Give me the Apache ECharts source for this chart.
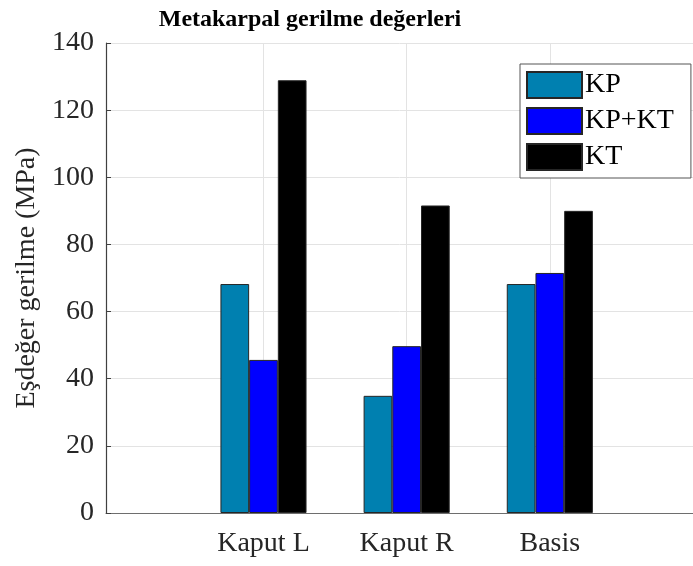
<!DOCTYPE html>
<html>
<head>
<meta charset="utf-8">
<script src="https://cdn.jsdelivr.net/npm/echarts@6/dist/echarts.min.js"></script>
<style>
html,body{margin:0;padding:0;background:#fff;}
#chart{width:693px;height:566px;}
</style>
</head>
<body>
<div id="chart"></div>
<script>
const categories = ['Kaput L', 'Kaput R', 'Basis'];
const seriesNames = ['KP', 'KP+KT', 'KT'];
const kpValues = [68.2, 34.9, 68.2];
const kpktValues = [45.6, 49.7, 71.5];
const ktValues = [128.9, 91.6, 90.0];
const yTicks = [0, 20, 40, 60, 80, 100, 120, 140];
const colors = ['#0080b0', '#0000ff', '#000000'];

const serif = '"Liberation Serif", "Times New Roman", serif';
const textColor = '#262626';
const catPositions = categories.map((c, i) => i + 1);

function toPoints(vals) { return vals.map((v, i) => [catPositions[i], v]); }

const allValues = [kpValues, kpktValues, ktValues];
const series = allValues.map((vals, k) => ({
  name: seriesNames[k],
  type: 'bar',
  data: toPoints(vals),
  barWidth: 28.7,
  barGap: '0%',
  itemStyle: { color: colors[k], borderColor: '#262626', borderWidth: 1 },
  emphasis: { disabled: true }
}));

const chart = echarts.init(document.getElementById('chart'), null, { renderer: 'canvas' });
chart.setOption({
  animation: false,
  backgroundColor: '#ffffff',
  title: {
    text: 'Metakarpal gerilme değerleri',
    left: 305, textAlign: 'center', top: 3,
    textStyle: { fontFamily: serif, fontWeight: 'bold', fontSize: 24, color: '#000' }
  },
  legend: {
    orient: 'vertical',
    left: 520, top: 64,
    padding: [7, 17, 7, 6],
    itemWidth: 55, itemHeight: 26, itemGap: 8,
    borderColor: '#555', borderWidth: 1,
    backgroundColor: '#fff',
    icon: 'rect',
    textStyle: { fontFamily: serif, fontSize: 28, color: '#000', padding: [0, 0, 0, -2] },
    data: seriesNames
  },
  grid: { left: 106, right: 0, top: 43, bottom: 53, containLabel: false },
  xAxis: {
    type: 'value',
    min: -0.1, max: 4,
    axisLine: { show: true, onZero: false, lineStyle: { color: '#6e6e6e', width: 1.2 } },
    axisTick: { show: false, customValues: catPositions },
    axisLabel: {
      customValues: catPositions,
      formatter: v => categories[Math.round(v) - 1] || '',
      fontFamily: serif, fontSize: 28, color: textColor, margin: 17
    },
    splitLine: { show: true, lineStyle: { color: '#e3e3e3', width: 1 } }
  },
  yAxis: {
    type: 'value',
    min: 0, max: 140, interval: 20,
    name: 'Eşdeğer gerilme (MPa)',
    nameLocation: 'middle', nameGap: 62, nameRotate: 90,
    nameTextStyle: { fontFamily: serif, fontSize: 28, color: textColor },
    axisLine: { show: true, onZero: false, lineStyle: { color: '#404040', width: 1.2 } },
    axisTick: { show: true, inside: true, length: 5, lineStyle: { color: '#404040' } },
    axisLabel: {
      fontFamily: serif, fontSize: 28, color: textColor, margin: 12,
      formatter: v => yTicks.includes(v) ? String(v) : ''
    },
    splitLine: { show: true, lineStyle: { color: '#e3e3e3', width: 1 } }
  },
  series: series
});
</script>
</body>
</html>
